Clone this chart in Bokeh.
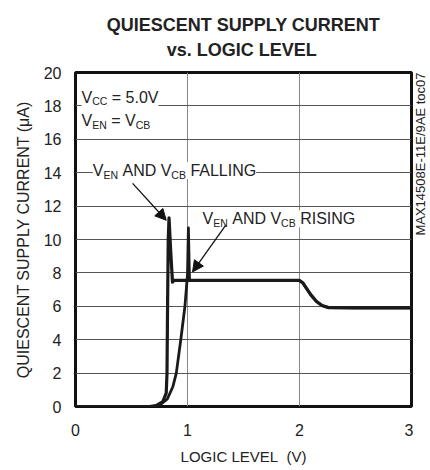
import math
from bokeh.plotting import figure
from bokeh.layouts import row
from bokeh.models import Label, Title, Arrow, NormalHead, FixedTicker, Range1d
from bokeh.core.properties import value
from bokeh.embed import file_html
from bokeh.resources import INLINE

# ---- data ----
falling_x = [0.0, 0.66, 0.72, 0.78, 0.81, 0.817, 0.822, 0.828, 0.835, 0.85, 0.866, 0.88, 1.2, 1.6, 2.0,
             2.03, 2.07, 2.1, 2.15, 2.2, 2.26, 2.5, 3.0]
falling_y = [0.0, 0.0, 0.05, 0.3, 0.8, 2.0, 6.0, 10.0, 11.3, 9.3, 7.45, 7.55, 7.55, 7.55, 7.55,
             7.4, 7.0, 6.7, 6.3, 6.05, 5.92, 5.9, 5.9]
rising_x = [0.0, 0.66, 0.70, 0.76, 0.82, 0.87, 0.90, 0.94, 0.977, 1.0, 1.008, 1.018, 1.05, 1.5, 2.0,
            2.03, 2.07, 2.1, 2.15, 2.2, 2.26, 2.5, 3.0]
rising_y = [0.0, 0.0, 0.02, 0.12, 0.45, 1.2, 2.0, 4.0, 6.0, 7.9, 10.7, 7.55, 7.55, 7.55, 7.55,
            7.4, 7.0, 6.7, 6.3, 6.05, 5.92, 5.9, 5.9]
x_ticks = [0, 1, 2, 3]
y_ticks = [0, 2, 4, 6, 8, 10, 12, 14, 16, 18, 20]
title_lines = ["QUIESCENT SUPPLY CURRENT", "vs. LOGIC LEVEL"]
code_text = ["MAX14508E-11E/9AE toc07"]

FONT = "Liberation Sans"
TXT = "#222222"
NB = "\u00a0"
TOP, BOTTOM, LEFT, FRAME_W = 71, 62, 75, 336
H = TOP + 335 + BOTTOM

p = figure(width=LEFT + FRAME_W + 2, height=H, output_backend="svg", toolbar_location=None,
           x_range=Range1d(0, 3), y_range=Range1d(0, 20),
           min_border_left=LEFT, min_border_right=2, min_border_top=TOP, min_border_bottom=BOTTOM)

# second line is indented with no-break spaces so that both lines appear centred
title_text = title_lines[0] + "\n" + NB * 12 + title_lines[1]
p.add_layout(Title(text=title_text, align="center", text_font=FONT, text_font_size="18px",
                   text_font_style="bold", text_color=TXT, text_line_height=1.25, standoff=25), "above")

p.xaxis.ticker = FixedTicker(ticks=x_ticks)
p.yaxis.ticker = FixedTicker(ticks=y_ticks)
for ax in (p.xaxis, p.yaxis):
    ax.major_tick_line_color = None
    ax.minor_tick_line_color = None
    ax.major_tick_out = 0
    ax.axis_line_color = None
    ax.major_label_text_font = FONT
    ax.major_label_text_font_size = "16px"
    ax.major_label_text_color = TXT
    ax.axis_label_text_font = FONT
    ax.axis_label_text_font_style = "normal"
    ax.axis_label_text_color = TXT
p.xaxis.axis_label = "LOGIC LEVEL" + NB + " (V)"
p.yaxis.axis_label = "QUIESCENT SUPPLY CURRENT (\u03bcA)"
p.xaxis.axis_label_text_font_size = "15px"
p.yaxis.axis_label_text_font_size = "16px"
p.xaxis.major_label_standoff = 17
p.yaxis.major_label_standoff = 14
p.xaxis.axis_label_standoff = 9
p.yaxis.axis_label_standoff = 9

p.xgrid.ticker = FixedTicker(ticks=x_ticks)
p.ygrid.ticker = FixedTicker(ticks=y_ticks)
p.xgrid.grid_line_color = "#888888"
p.ygrid.grid_line_color = "#555555"
p.xgrid.grid_line_width = 1
p.ygrid.grid_line_width = 1

p.outline_line_color = "#111111"
p.outline_line_width = 3
p.background_fill_color = "white"

p.line(rising_x, rising_y, line_color="#1a1a1a", line_width=2.8, line_join="round")
p.line(falling_x, falling_y, line_color="#1a1a1a", line_width=3.2, line_join="round")

# ---- annotations ----
def piece(x, y, txt, dx, sub):
    lab = Label(x=x, y=y, text=txt, x_offset=dx, y_offset=-4 if sub else 0, text_font=FONT,
                text_font_size="10.5px" if sub else "16px", text_color=TXT,
                text_baseline="alphabetic",
                background_fill_color="white", background_fill_alpha=1.0)
    p.add_layout(lab)

def vsub(x, y, parts):
    dx = 0
    for txt, w, sub in parts:
        piece(x, y, txt, dx, sub)
        dx += w

vsub(0.053, 18.51, [("V", 10.7, False), ("CC", 15.2, True), (NB + "= 5.0V", 51, False)])
vsub(0.053, 17.12, [("V", 10.7, False), ("EN", 14.6, True), (NB + "= V", 29, False), ("CB", 14.6, True)])
vsub(0.154, 14.13, [("V", 10.7, False), ("EN", 14.6, True), (NB + "AND V", 53.3, False), ("CB", 14.6, True),
                    (NB + "FALLING", 72, False)])
vsub(1.134, 11.25, [("V", 10.7, False), ("EN", 14.6, True), (NB + "AND V", 53.3, False), ("CB", 14.6, True),
                    (NB + "RISING", 60, False)])

p.add_layout(Arrow(x_start=0.51, y_start=13.36, x_end=0.81, y_end=11.15, line_width=1.3,
                   line_color="#111111",
                   end=NormalHead(size=11, fill_color="#111111", line_color="#111111")))
p.add_layout(Arrow(x_start=1.34, y_start=10.85, x_end=1.045, y_end=8.06, line_width=1.3,
                   line_color="#111111",
                   end=NormalHead(size=11, fill_color="#111111", line_color="#111111")))

# ---- side strip with the rotated document code ----
q = figure(width=15, height=H, output_backend="svg", toolbar_location=None,
           x_range=Range1d(0, 1), y_range=Range1d(0, 20),
           x_axis_location=None, y_axis_location=None,
           min_border_left=0, min_border_right=0, min_border_top=TOP, min_border_bottom=BOTTOM)
q.grid.visible = False
q.outline_line_color = None
q.text(x=[0.45], y=[20], text=code_text, angle=math.pi / 2, text_align="right",
       text_baseline="middle", text_font=value(FONT), text_font_size="13px", text_color=TXT)

layout = row(p, q, spacing=0)
open("out.html", "w").write(file_html(layout, INLINE))
